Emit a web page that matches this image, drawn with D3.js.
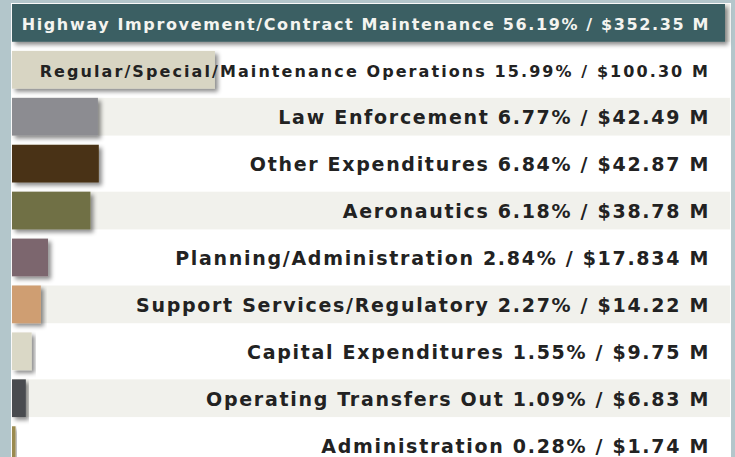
<!DOCTYPE html>
<html lang="en">
<head>
    <meta charset="UTF-8">
    <title>Expenditures by Category</title>
    <script src="https://d3js.org/d3.v7.min.js"></script>
    <style>
        body { margin: 0; background: #b3c6cb; }
    </style>
</head>
<body>
    <div id="chart"></div>

    <script>
        // Data
        const categories = [
            "Highway Improvement/Contract Maintenance",
            "Regular/Special/Maintenance Operations",
            "Law Enforcement",
            "Other Expenditures",
            "Aeronautics",
            "Planning/Administration",
            "Support Services/Regulatory",
            "Capital Expenditures",
            "Operating Transfers Out",
            "Administration"
        ];
        const percents = [56.19, 15.99, 6.77, 6.84, 6.18, 2.84, 2.27, 1.55, 1.09, 0.28];
        const amounts = ["352.35", "100.30", "42.49", "42.87", "38.78", "17.834", "14.22", "9.75", "6.83", "1.74"];
        const colors = ["#3b5f63", "#d8d5c3", "#8c8c91", "#4a3215", "#6f6f45",
                        "#7c666e", "#cf9e72", "#dad8c6", "#4a4c4f", "#9a8a4f"];

        const rows = categories.map((c, i) => ({
            name: c, pct: percents[i], amount: amounts[i], color: colors[i], i: i
        }));

        const W = 735, H = 457;
        const svg = d3.select("#chart").append("svg")
            .attr("width", W)
            .attr("height", H)
            .style("display", "block");

        // drop shadow for bars
        svg.append("defs").append("filter")
            .attr("id", "shadow")
            .attr("x", "-10%").attr("y", "-20%")
            .attr("width", "130%").attr("height", "150%")
            .append("feDropShadow")
            .attr("dx", 3).attr("dy", 3)
            .attr("stdDeviation", 2)
            .attr("flood-color", "#000")
            .attr("flood-opacity", 0.45);

        // white panel inside the blue-gray frame
        svg.append("rect")
            .attr("x", 11).attr("y", 3)
            .attr("width", 720).attr("height", H - 3)
            .attr("fill", "#ffffff");

        const x = d3.scaleLinear()
            .domain([0, d3.max(percents)])
            .range([12, 725]);

        const y = d3.scaleBand()
            .domain(d3.range(categories.length))
            .range([4, 4 + 46 * categories.length])
            .paddingInner(9 / 46)
            .paddingOuter(0)
            .align(0);

        // alternating stripes
        svg.selectAll(".stripe")
            .data(rows.filter(d => d.i % 2 === 0))
            .join("rect")
            .attr("class", "stripe")
            .attr("x", 12)
            .attr("y", d => y(d.i))
            .attr("width", 730 - 12)
            .attr("height", y.bandwidth())
            .attr("fill", "#f1f1ec");

        // bars
        svg.selectAll(".bar")
            .data(rows)
            .join("rect")
            .attr("class", "bar")
            .attr("x", x(0))
            .attr("y", d => y(d.i))
            .attr("width", d => x(d.pct) - x(0))
            .attr("height", y.bandwidth())
            .attr("fill", d => d.color)
            .attr("filter", "url(#shadow)");

        // labels (the two top rows use a smaller size)
        const spacing = [1.63, 2.08];
        svg.selectAll(".label")
            .data(rows)
            .join("text")
            .attr("class", "label")
            .attr("x", 710)
            .attr("y", d => y(d.i) + y.bandwidth() / 2 + 7.5)
            .attr("text-anchor", "end")
            .attr("font-family", "'DejaVu Sans', sans-serif")
            .attr("font-weight", "bold")
            .attr("font-size", d => d.i < 2 ? 16 : 19)
            .attr("letter-spacing", d => d.i < 2 ? spacing[d.i] : 1.7)
            .attr("fill", d => d.i === 0 ? "#f4f4f0" : "#222222")
            .text(d => `${d.name} ${d.pct.toFixed(2)}% / $${d.amount} M`);
    </script>
</body>
</html>
